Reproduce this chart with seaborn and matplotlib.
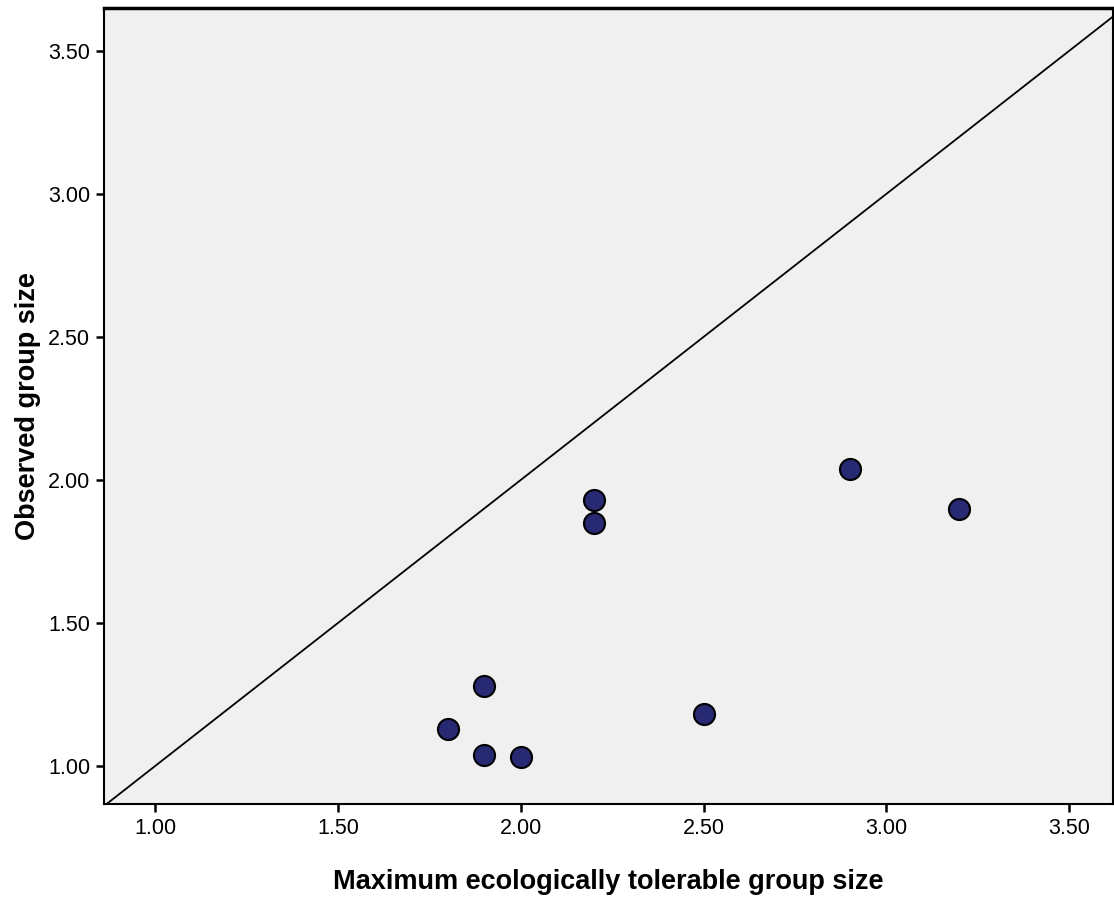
import matplotlib
matplotlib.use("Agg")
import matplotlib.pyplot as plt
import seaborn as sns
import pandas as pd

# values
max_tolerable = [1.80, 1.90, 1.90, 2.00, 2.20, 2.20, 2.50, 2.90, 3.20]
observed = [1.13, 1.28, 1.04, 1.03, 1.93, 1.85, 1.18, 2.04, 1.90]
ticks = [1.00, 1.50, 2.00, 2.50, 3.00, 3.50]

df = pd.DataFrame({"max_tol": max_tolerable, "obs": observed})

sns.set_style("ticks")
plt.rcParams["font.family"] = ["Liberation Sans", "DejaVu Sans"]
plt.rcParams["text.color"] = "black"
plt.rcParams["axes.labelcolor"] = "black"
plt.rcParams["xtick.color"] = "black"
plt.rcParams["ytick.color"] = "black"

fig = plt.figure(figsize=(11.14, 8.97), dpi=100)
ax = fig.add_axes([0.0934, 0.1037, 0.9056, 0.8873])
ax.set_facecolor("#f0f0f0")

lo, hi = 0.86, 3.65
ax.plot([lo, hi], [lo, hi], color="black", lw=1.3, zorder=1)

sns.scatterplot(data=df, x="max_tol", y="obs", ax=ax, s=230,
                color="#272a72", edgecolor="black", linewidth=1.5, zorder=3)

ax.set_xlim(0.86, 3.62)
ax.set_ylim(0.867, 3.65)
ax.set_xticks(ticks)
ax.set_yticks(ticks)
ax.set_xticklabels([f"{t:.2f}" for t in ticks])
ax.set_yticklabels([f"{t:.2f}" for t in ticks])
ax.tick_params(length=6, width=1.8, labelsize=15.5, pad=4)

for side in ["left", "bottom", "top", "right"]:
    ax.spines[side].set_color("black")
    ax.spines[side].set_linewidth(1.5)
ax.spines["top"].set_linewidth(2.5)

ax.set_xlabel("Maximum ecologically tolerable group size", fontsize=19.5,
              fontweight="bold", labelpad=22)
ax.set_ylabel("Observed group size", fontsize=19.5, fontweight="bold", labelpad=5)

fig.savefig("out.png", dpi=100)
